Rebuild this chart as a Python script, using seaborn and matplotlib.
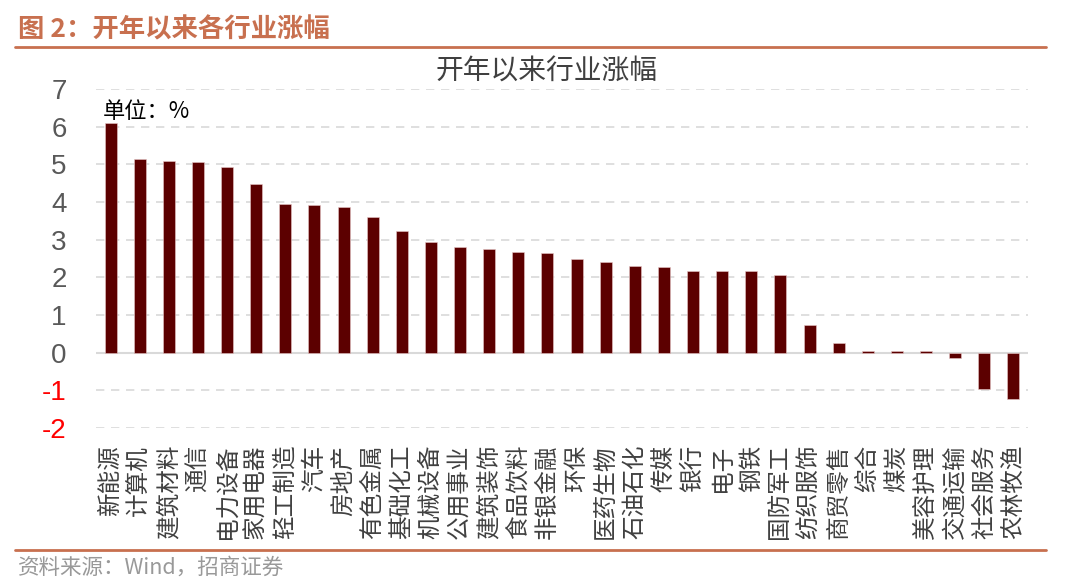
import numpy as np
import pandas as pd
import seaborn as sns
import matplotlib.pyplot as plt

# industries and year-to-date change (%)
industries = ['新能源', '计算机', '建筑材料', '通信', '电力设备', '家用电器', '轻工制造', '汽车',
              '房地产', '有色金属', '基础化工', '机械设备', '公用事业', '建筑装饰', '食品饮料', '非银金融',
              '环保', '医药生物', '石油石化', '传媒', '银行', '电子', '钢铁', '国防军工',
              '纺织服饰', '商贸零售', '综合', '煤炭', '美容护理', '交通运输', '社会服务', '农林牧渔']
changes = [6.09, 5.15, 5.08, 5.05, 4.94, 4.47, 3.94, 3.91,
           3.87, 3.59, 3.24, 2.95, 2.80, 2.74, 2.67, 2.64,
           2.48, 2.42, 2.30, 2.28, 2.18, 2.16, 2.16, 2.06,
           0.74, 0.25, 0.05, 0.04, 0.04, -0.13, -0.97, -1.24]
y_ticks = [-2, -1, 0, 1, 2, 3, 4, 5, 6, 7]

df = pd.DataFrame({'industry': industries, 'change': changes})

sns.set_style('white')
plt.rcParams['font.family'] = ['Noto Sans CJK SC', 'DejaVu Sans']

fig = plt.figure(figsize=(10.8, 5.83), dpi=100)
ax = fig.add_axes([96 / 1080, 1 - 428 / 583, (1028 - 96) / 1080, (428 - 89) / 583])

sns.barplot(ax=ax, data=df, x='industry', y='change', color='#5c0000', saturation=1,
            width=0.41, edgecolor='#e8c8c8', linewidth=0.4)

ax.set_ylim(-2, 7)
ax.set_xlim(-0.5, len(industries) - 0.5)
ax.set_yticks(y_ticks)
ax.set_yticklabels([str(t) for t in y_ticks], fontsize=20, family=['Liberation Sans', 'DejaVu Sans'])
for lbl, t in zip(ax.get_yticklabels(), y_ticks):
    lbl.set_color('#ff0000' if t < 0 else '#595959')
ax.tick_params(axis='y', length=0, pad=21)
ax.tick_params(axis='x', length=0, pad=12)
plt.setp(ax.get_xticklabels(), rotation=90, fontsize=17, color='#404040')

# grid lines
for t in y_ticks:
    if t == 0:
        ax.axhline(0, color='#d9d9d9', lw=1.5, zorder=0.5)
    else:
        ax.axhline(t, color='#d9d9d9', lw=1.2, ls=(0, (5, 4)), zorder=0.5)
for s in ax.spines.values():
    s.set_visible(False)
ax.set_xlabel('')
ax.set_ylabel('')

fig.text(547 / 1080, 1 - 72 / 583, '开年以来行业涨幅', fontsize=20, color='#404040',
         ha='center', va='center')
fig.text(103 / 1080, 1 - 111 / 583, '单位：%', fontsize=16, color='#000000', va='center')

# report header and footer
fig.text(18 / 1080, 1 - 30 / 583, '图 2：开年以来各行业涨幅', fontsize=19, fontweight='bold',
         color='#c8704f', va='center')
fig.add_artist(plt.Line2D([15 / 1080, 1046 / 1080], [1 - 47 / 583] * 2, color='#c8704f', lw=2))
fig.add_artist(plt.Line2D([15 / 1080, 1046 / 1080], [1 - 550 / 583] * 2, color='#c8704f', lw=2))
fig.text(18 / 1080, 1 - 568 / 583, '资料来源：Wind，招商证券', fontsize=15.5, color='#999999', va='center')

fig.savefig('out.png', dpi=100)
